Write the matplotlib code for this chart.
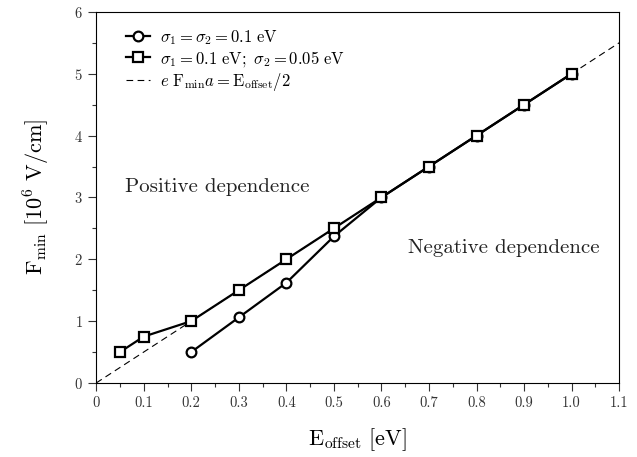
import numpy as np
import matplotlib
matplotlib.use("Agg")
import matplotlib.pyplot as plt
from matplotlib.ticker import MultipleLocator

plt.rcParams['font.family'] = 'serif'
plt.rcParams['font.serif'] = ['cmr10', 'DejaVu Serif']
plt.rcParams['mathtext.fontset'] = 'cm'
plt.rcParams['axes.formatter.use_mathtext'] = True

# data
e_circ = [0.2, 0.3, 0.4, 0.5, 0.6, 0.7, 0.8, 0.9, 1.0]
f_circ = [0.5, 1.06, 1.62, 2.37, 3.0, 3.5, 4.0, 4.5, 5.0]
e_sq = [0.05, 0.1, 0.2, 0.3, 0.4, 0.5, 0.6, 0.7, 0.8, 0.9, 1.0]
f_sq = [0.5, 0.75, 1.0, 1.5, 2.0, 2.5, 3.0, 3.5, 4.0, 4.5, 5.0]
e_line = [0.0, 1.1]
f_line = [0.0, 5.5]

fig = plt.figure(figsize=(6.37, 4.57), dpi=100)
ax = fig.add_axes([0.151, 0.162, 0.821, 0.812])

ax.plot(e_circ, f_circ, '-', color='black', lw=1.6, marker='o', ms=7,
        mfc='white', mec='black', mew=1.6, zorder=3,
        label=r'$\mathsf{\sigma}_1 = \mathsf{\sigma}_2 = 0.1\ \mathrm{eV}$')
ax.plot(e_sq, f_sq, '-', color='black', lw=1.6, marker='s', ms=7,
        mfc='white', mec='black', mew=1.6, zorder=4,
        label=r'$\mathsf{\sigma}_1 = 0.1\ \mathrm{eV};\ \mathsf{\sigma}_2 = 0.05\ \mathrm{eV}$')
ax.plot(e_line, f_line, '--', color='black', lw=0.8, dashes=(6, 4), zorder=2,
        label=r'$e\ \mathrm{F}_{\mathrm{min}}a = \mathrm{E}_{\mathrm{offset}}/2$')

ax.set_xlim(0, 1.1)
ax.set_ylim(0, 6)
ax.xaxis.set_minor_locator(MultipleLocator(0.05))
ax.yaxis.set_major_locator(MultipleLocator(1))
ax.yaxis.set_minor_locator(MultipleLocator(0.5))
ax.set_xticks(np.arange(0, 1.11, 0.1))
ax.set_xticklabels(['0'] + ['%.1f' % v for v in np.arange(0.1, 1.11, 0.1)])
ax.tick_params(which='major', direction='out', length=6, width=0.8,
               labelsize=10.5, colors='#333333', labelcolor='#333333')
ax.tick_params(which='minor', direction='out', length=3, width=0.8, colors='#333333')
ax.tick_params(top=False, right=False, which='both')

ax.set_xlabel(r'$\mathrm{E}_{\mathrm{offset}}\ [\mathrm{eV}]$', fontsize=16, labelpad=12)
ax.set_ylabel(r'$\mathrm{F}_{\mathrm{min}}\ [10^6\ \mathrm{V/cm}]$', fontsize=16, labelpad=16)

ax.text(0.061, 3.17, 'Positive dependence', fontsize=15, color='#222222', va='center')
ax.text(0.656, 2.18, 'Negative dependence', fontsize=15, color='#222222', va='center')

ax.legend(loc='upper left', bbox_to_anchor=(0.045, 0.975), frameon=False,
          fontsize=12, handlelength=1.4, handletextpad=0.6, labelspacing=0.12,
          borderaxespad=0)

fig.savefig('out.png', dpi=100)
